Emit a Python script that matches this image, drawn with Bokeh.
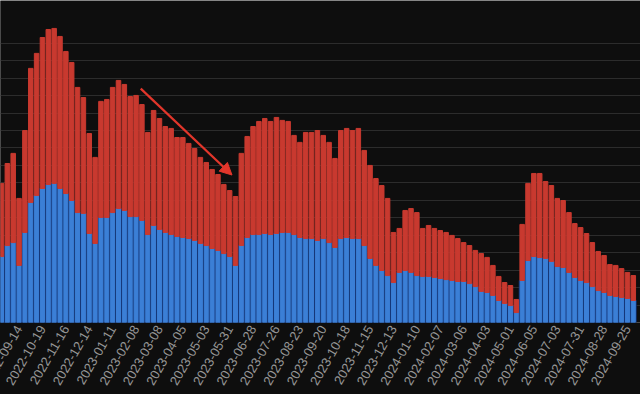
import math
from bokeh.plotting import figure
from bokeh.models import Range1d, FixedTicker, Arrow, NormalHead
from bokeh.embed import file_html
from bokeh.resources import INLINE

# ---- data (weekly bars) ----
tick_labels = ["2022-09-14", "2022-10-19", "2022-11-16", "2022-12-14", "2023-01-11", "2023-02-08",
               "2023-03-08", "2023-04-05", "2023-05-03", "2023-05-31", "2023-06-28", "2023-07-26",
               "2023-08-23", "2023-09-20", "2023-10-18", "2023-11-15", "2023-12-13", "2024-01-10",
               "2024-02-07", "2024-03-06", "2024-04-03", "2024-05-01", "2024-06-05", "2024-07-03",
               "2024-07-31", "2024-08-28", "2024-09-25"]
tick_index = [3, 7, 11, 15, 19, 23, 27, 31, 35, 39, 43, 47, 51, 55, 59, 63, 67, 71, 75, 79, 83, 87,
              91, 95, 99, 103, 107]

blue = [37.8, 44.1, 45.8, 32.7, 51.6, 68.8, 72.8, 76.8, 79.1, 79.7, 76.8, 73.9, 69.9, 63.0, 62.5,
        51.0, 45.3, 60.2, 60.2, 63.0, 65.3, 64.2, 60.7, 60.7, 58.5, 50.4, 55.6, 53.3, 51.6, 50.4,
        49.3, 48.7, 48.1, 47.0, 45.3, 44.1, 42.4, 41.3, 39.5, 37.8, 32.7, 44.1, 48.7, 50.4, 50.4,
        51.0, 50.4, 51.0, 51.6, 51.6, 50.4, 48.7, 48.1, 48.1, 47.0, 48.1, 45.8, 43.0, 48.1, 48.7,
        48.1, 48.1, 44.1, 36.7, 32.7, 29.8, 26.9, 22.9, 28.7, 29.8, 28.7, 26.9, 26.4, 26.4, 25.8,
        25.2, 24.6, 24.1, 23.5, 23.5, 22.3, 20.6, 17.8, 17.2, 15.5, 12.6, 10.9, 9.7, 5.7, 24.1,
        35.5, 37.8, 37.2, 36.7, 35.0, 32.1, 31.5, 28.7, 25.8, 24.1, 22.9, 20.6, 18.3, 17.2, 15.5,
        14.9, 14.3, 13.8, 12.6]

total = [79.7, 91.1, 96.9, 71.1, 110.0, 145.6, 154.2, 163.3, 167.9, 168.5, 163.9, 155.3, 149.0,
         134.7, 128.9, 108.3, 94.6, 126.7, 127.8, 134.7, 138.7, 136.4, 129.5, 130.1, 124.9, 108.9,
         121.5, 116.9, 112.3, 111.2, 106.0, 106.0, 102.6, 99.7, 94.6, 91.7, 87.7, 84.8, 79.1, 75.6,
         72.2, 96.9, 106.6, 112.3, 115.2, 116.9, 115.2, 117.5, 115.8, 115.2, 107.2, 103.2, 108.9,
         108.9, 110.0, 107.2, 103.2, 94.0, 110.0, 111.2, 110.0, 111.2, 98.6, 90.0, 82.5, 78.5, 71.1,
         51.6, 53.9, 64.2, 65.3, 63.0, 53.9, 55.6, 53.9, 52.7, 51.6, 49.9, 48.1, 45.8, 44.1, 41.3,
         39.5, 37.3, 32.7, 26.4, 22.9, 21.2, 13.2, 56.2, 79.7, 85.4, 85.4, 80.8, 78.5, 71.1, 69.9,
         63.0, 56.7, 54.4, 51.0, 45.8, 40.7, 38.4, 33.2, 32.7, 30.9, 28.7, 26.9]

grid_values = [10, 20, 30, 40, 50, 60, 70, 80, 90, 100, 110, 120, 130, 140, 150, 160]

# trend arrow (data coordinates)
arrow_x0, arrow_y0 = 23.8, 134.0
arrow_x1, arrow_y1 = 39.4, 84.5

idx = list(range(len(blue)))

BG = "#0e0e0e"
LABEL_COLOR = "#969696"
# the canvas reaches 20px past the left window edge, so the first date label is cut
# at the edge exactly as in the source screenshot
p = figure(width=660, height=394, output_backend="svg", toolbar_location=None,
           x_range=Range1d(-0.171, 109.23), y_range=Range1d(0, 184.5),
           min_border_left=20, min_border_right=0, min_border_top=0, min_border_bottom=72,
           background_fill_color=BG, border_fill_color=BG, outline_line_color=None)
p.styles = {"margin-left": "-20px"}

p.vbar(x=idx, top=blue, width=1.0, color="#12306e")
p.vbar(x=idx, top=blue, width=0.68, color="#3b7fd6")
p.vbar(x=idx, bottom=blue, top=total, width=0.77, color="#c8392f")

p.add_layout(Arrow(end=NormalHead(size=12, fill_color="#e2362b", line_color="#e2362b"),
                   x_start=arrow_x0, y_start=arrow_y0, x_end=arrow_x1, y_end=arrow_y1,
                   line_color="#e2362b", line_width=2.2))

p.yaxis.visible = False
p.xgrid.visible = False
p.ygrid.ticker = FixedTicker(ticks=grid_values)
p.ygrid.grid_line_color = "#2c2c2c"
p.ygrid.grid_line_width = 1

ax = p.xaxis[0]
ax.ticker = FixedTicker(ticks=tick_index)
ax.major_label_overrides = {i: s for i, s in zip(tick_index, tick_labels)}
ax.major_label_orientation = math.pi / 3
ax.axis_line_color = None
ax.major_tick_line_color = None
ax.minor_tick_line_color = None
ax.major_tick_out = 0
ax.major_tick_in = 0
ax.major_label_text_color = LABEL_COLOR
ax.major_label_text_font = "Liberation Sans"
ax.major_label_text_font_size = "13px"
ax.major_label_standoff = 4

open("out.html", "w").write(file_html(p, INLINE))
